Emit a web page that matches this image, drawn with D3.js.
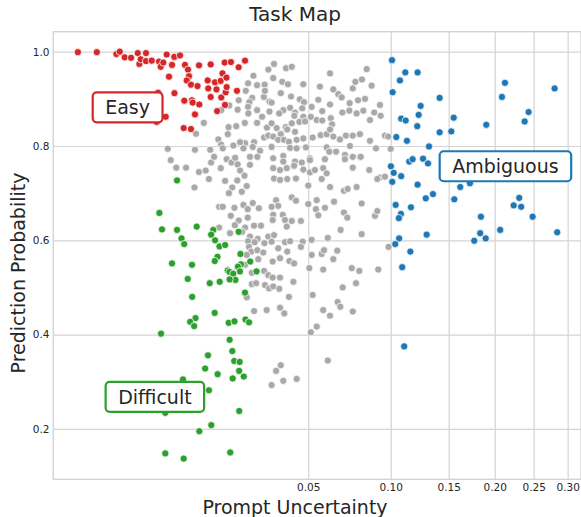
<!DOCTYPE html>
<html>
<head>
<meta charset="utf-8">
<script src="https://cdn.jsdelivr.net/npm/d3@7"></script>
<style>
  body { margin: 0; background: #fff; }
  svg { font-family: "DejaVu Sans", sans-serif; }
</style>
</head>
<body>
<script>

// [prompt uncertainty, prediction probability]
const easyPoints = [
  [0.00103,0.999],[0.00186,0.999],[0.00309,0.995],[0.00335,1.000],[0.00375,0.988],[0.00431,0.987],
  [0.00496,0.997],[0.00512,0.974],[0.00526,0.984],[0.00584,0.997],[0.00584,0.980],[0.00651,0.981],
  [0.00744,0.979],[0.00766,0.968],[0.00802,0.977],[0.00850,0.994],[0.00930,0.972],[0.00965,0.989],
  [0.01058,0.992],[0.01144,0.972],[0.01198,0.962],[0.01216,0.948],[0.00884,0.947],[0.01175,0.939],
  [0.01253,0.930],[0.0138,0.927],[0.0141,0.971],[0.01661,0.973],[0.01998,0.977],[0.02164,0.978],
  [0.02379,0.967],[0.02567,0.981],[0.00968,0.912],[0.01132,0.896],[0.01272,0.897],[0.01286,0.892],
  [0.01416,0.888],[0.0133,0.867],[0.01121,0.838],[0.01253,0.836],[0.00731,0.913],[0.00836,0.862],
  [0.01594,0.939],[0.01607,0.922],[0.01661,0.904],[0.0176,0.935],[0.01796,0.920],[0.01898,0.938],
  [0.01943,0.954],[0.02045,0.945],[0.01913,0.903],[0.02024,0.914],[0.02050,0.925],[0.01812,0.874],
  [0.02006,0.887],[0.02331,0.917],[0.00713,0.851]
];

const difficultPoints = [
  [0.01009,0.727],[0.00748,0.658],[0.00784,0.623],[0.01009,0.622],[0.01084,0.604],[0.0113,0.592],
  [0.01364,0.629],[0.01721,0.622],[0.01672,0.612],[0.01762,0.600],[0.01868,0.587],[0.02011,0.590],
  [0.02379,0.618],[0.0093,0.551],[0.01272,0.548],[0.0182,0.565],[0.01755,0.556],[0.02431,0.571],
  [0.02446,0.549],[0.02728,0.555],[0.02359,0.544],[0.02077,0.536],[0.02211,0.531],[0.02416,0.534],
  [0.02932,0.534],[0.02124,0.533],[0.02227,0.529],[0.02288,0.516],[0.02129,0.517],[0.01193,0.518],
  [0.0164,0.509],[0.01873,0.512],[0.02567,0.489],[0.01276,0.480],[0.01753,0.446],[0.0134,0.435],
  [0.01238,0.427],[0.01314,0.418],[0.02103,0.425],[0.0226,0.428],[0.02582,0.432],[0.02691,0.426],
  [0.00771,0.402],[0.02129,0.389],[0.022,0.365],[0.01601,0.356],[0.02254,0.344],[0.02408,0.342],
  [0.01539,0.328],[0.02393,0.323],[0.01824,0.316],[0.02211,0.307],[0.0253,0.311],[0.01109,0.305],
  [0.01622,0.282],[0.0083,0.234],[0.02396,0.238],[0.01675,0.208],[0.01416,0.195],[0.0083,0.148],
  [0.01121,0.137],[0.02145,0.150]
];

const ambiguousPoints = [
  [0.1009,0.982],[0.1113,0.956],[0.1215,0.956],[0.1070,0.939],[0.1014,0.914],[0.2124,0.934],
  [0.2087,0.904],[0.2801,0.922],[0.1413,0.902],[0.1241,0.885],[0.1224,0.866],[0.1080,0.858],
  [0.1116,0.854],[0.1212,0.842],[0.1550,0.860],[0.1901,0.845],[0.2431,0.872],[0.2378,0.852],
  [0.1413,0.829],[0.1526,0.831],[0.1042,0.819],[0.1126,0.811],[0.1315,0.799],[0.1145,0.767],
  [0.1173,0.772],[0.1262,0.773],[0.1306,0.763],[0.1001,0.757],[0.1022,0.743],[0.1080,0.736],
  [0.1011,0.724],[0.1215,0.718],[0.1617,0.713],[0.1719,0.721],[0.1351,0.698],[0.1286,0.689],
  [0.1556,0.687],[0.2306,0.690],[0.2234,0.674],[0.2332,0.671],[0.1037,0.675],[0.1159,0.670],
  [0.1078,0.656],[0.1062,0.647],[0.1840,0.650],[0.2486,0.650],[0.1294,0.612],[0.1832,0.615],
  [0.1894,0.604],[0.1766,0.599],[0.2066,0.622],[0.2840,0.617],[0.1064,0.604],[0.1034,0.592],
  [0.1154,0.576],[0.1088,0.543],[0.1104,0.375]
];

const otherPoints = [
  [0.0283,0.949],[0.0334,0.962],[0.0266,0.933],[0.0295,0.929],[0.0321,0.930],[0.0259,0.917],
  [0.0279,0.902],[0.0318,0.904],[0.0338,0.894],[0.0238,0.897],[0.0270,0.893],[0.0191,0.876],
  [0.0212,0.886],[0.0235,0.877],[0.0266,0.883],[0.0295,0.876],[0.0312,0.862],[0.0267,0.869],
  [0.0151,0.849],[0.0210,0.840],[0.0231,0.842],[0.0256,0.849],[0.0295,0.849],[0.0329,0.839],
  [0.0135,0.826],[0.0184,0.814],[0.0191,0.803],[0.0208,0.825],[0.0257,0.806],[0.0285,0.808],
  [0.0319,0.818],[0.0334,0.822],[0.00865,0.794],[0.0133,0.792],[0.0165,0.792],[0.0195,0.795],
  [0.0223,0.801],[0.0252,0.795],[0.0281,0.798],[0.0305,0.790],[0.0322,0.917],[0.0242,0.808],
  [0.0338,0.873],
  [0.0355,0.974],[0.0402,0.965],[0.0426,0.968],[0.0352,0.944],[0.0387,0.936],[0.0410,0.931],
  [0.0477,0.931],[0.0610,0.954],[0.0830,0.963],[0.0557,0.926],[0.0628,0.920],[0.0757,0.936],
  [0.0799,0.941],[0.0863,0.928],[0.0741,0.922],[0.0381,0.912],[0.0423,0.905],[0.0461,0.899],
  [0.0480,0.893],[0.0549,0.898],[0.0656,0.910],[0.0675,0.903],[0.0722,0.891],[0.0774,0.897],
  [0.0819,0.900],[0.0921,0.887],[0.0346,0.892],[0.0391,0.876],[0.0419,0.881],[0.0440,0.871],
  [0.0472,0.880],[0.0516,0.883],[0.0610,0.888],[0.0375,0.869],[0.0437,0.864],[0.0477,0.862],
  [0.0512,0.862],[0.0569,0.874],[0.0679,0.871],[0.0720,0.875],[0.0765,0.869],[0.0808,0.875],
  [0.0881,0.871],[0.0926,0.864],[0.0852,0.855],[0.0346,0.848],[0.0401,0.840],[0.0426,0.848],
  [0.0459,0.851],[0.0485,0.852],[0.0541,0.855],[0.0569,0.854],[0.0614,0.859],[0.0621,0.846],
  [0.0365,0.838],[0.0381,0.825],[0.0407,0.835],[0.0440,0.830],[0.0352,0.820],[0.0371,0.813],
  [0.0394,0.813],[0.0414,0.809],[0.0447,0.813],[0.0477,0.816],[0.0521,0.818],[0.0561,0.823],
  [0.0592,0.825],[0.0610,0.835],[0.0628,0.820],[0.0665,0.814],[0.0700,0.822],[0.0741,0.822],
  [0.0786,0.825],[0.0852,0.811],[0.0957,0.822],[0.0981,0.820],[0.0419,0.796],[0.0391,0.779],
  [0.0447,0.795],[0.0489,0.797],[0.0592,0.797],[0.0606,0.788],[0.0643,0.788],[0.0724,0.800],
  [0.0694,0.781],[0.0786,0.777],[0.0893,0.795],[0.0999,0.794],[0.0508,0.774],[0.0346,0.798],
  [0.00910,0.770],[0.00997,0.754],[0.01162,0.754],[0.0141,0.745],[0.0155,0.748],[0.0167,0.765],
  [0.0174,0.777],[0.0190,0.753],[0.0205,0.772],[0.0218,0.765],[0.0235,0.761],[0.0228,0.775],
  [0.0242,0.748],[0.0255,0.737],[0.0234,0.727],[0.0201,0.726],[0.0162,0.730],[0.0132,0.712],
  [0.0262,0.715],[0.0220,0.712],[0.0247,0.703],[0.0211,0.700],[0.0272,0.777],[0.0296,0.777],
  [0.0272,0.760],[0.0186,0.671],[0.0195,0.671],[0.0226,0.669],[0.0252,0.675],[0.0265,0.666],
  [0.0281,0.679],[0.0301,0.668],[0.0216,0.652],[0.0238,0.642],[0.0265,0.648],[0.0227,0.632],
  [0.0257,0.627],[0.0285,0.631],[0.0308,0.631],[0.0186,0.627],[0.0214,0.615],[0.0248,0.618],
  [0.0272,0.608],[0.0297,0.603],[0.0266,0.598],[0.0287,0.596],[0.0320,0.594],[0.0334,0.608],
  [0.0269,0.586],[0.0276,0.576],[0.0262,0.569],[0.0296,0.579],[0.0316,0.574],[0.0299,0.560],
  [0.0257,0.548],[0.0319,0.535],
  [0.0352,0.774],[0.0391,0.767],[0.0440,0.767],[0.0470,0.765],[0.0508,0.770],[0.0583,0.772],
  [0.0694,0.772],[0.0741,0.777],[0.0791,0.777],[0.0352,0.753],[0.0378,0.749],[0.0405,0.753],
  [0.0436,0.758],[0.0477,0.750],[0.0508,0.744],[0.0532,0.749],[0.0574,0.753],[0.0592,0.742],
  [0.0741,0.754],[0.0847,0.749],[0.0921,0.733],[0.0957,0.735],[0.0355,0.731],[0.0378,0.728],
  [0.0407,0.730],[0.0444,0.731],[0.0500,0.716],[0.0566,0.730],[0.0610,0.713],[0.0688,0.705],
  [0.0710,0.709],[0.0765,0.713],[0.0902,0.730],[0.0363,0.685],[0.0371,0.673],[0.0346,0.671],
  [0.0426,0.691],[0.0444,0.684],[0.0500,0.677],[0.0541,0.685],[0.0632,0.682],[0.0537,0.666],
  [0.0583,0.669],[0.0549,0.653],[0.0797,0.678],[0.0688,0.659],[0.0708,0.648],[0.0886,0.652],
  [0.0902,0.662],[0.0352,0.654],[0.0389,0.654],[0.0350,0.643],[0.0398,0.643],[0.0405,0.629],
  [0.0426,0.641],[0.0466,0.641],[0.0669,0.622],[0.0797,0.613],[0.0355,0.611],[0.0346,0.597],
  [0.0398,0.596],[0.0419,0.598],[0.0474,0.597],[0.0516,0.601],[0.0598,0.605],[0.0371,0.583],
  [0.0407,0.576],[0.0466,0.586],[0.0516,0.569],[0.0566,0.571],[0.0578,0.579],[0.0650,0.578],
  [0.0984,0.586],[0.0628,0.560],[0.0350,0.555],[0.0378,0.562],[0.0416,0.556],[0.0436,0.551],
  [0.0505,0.541],[0.0574,0.538],[0.0735,0.541],[0.0782,0.535],[0.0909,0.538],
  [0.0278,0.531],[0.0334,0.526],[0.0278,0.507],[0.0292,0.509],[0.0322,0.505],[0.0337,0.498],
  [0.0262,0.479],[0.0285,0.450],[0.0328,0.452],
  [0.0350,0.521],[0.0378,0.521],[0.0433,0.512],[0.0352,0.502],[0.0375,0.497],[0.0414,0.480],
  [0.0521,0.484],[0.0681,0.500],[0.0761,0.509],[0.0378,0.457],[0.0395,0.445],[0.0574,0.452],
  [0.0610,0.440],[0.0652,0.469],[0.0667,0.459],[0.0741,0.449],[0.0541,0.417],[0.0512,0.405],
  [0.0598,0.345],[0.0381,0.335],[0.0363,0.323],[0.0391,0.302],[0.0447,0.306],[0.0346,0.293]
];

const xTicks = [0.05, 0.10, 0.15, 0.20, 0.25, 0.30];
const yTicks = [0.2, 0.4, 0.6, 0.8, 1.0];

const groups = [
  { name: "other", points: otherPoints, color: "#a9a9a9" },
  { name: "easy", points: easyPoints, color: "#d62728" },
  { name: "difficult", points: difficultPoints, color: "#2ca02c" },
  { name: "ambiguous", points: ambiguousPoints, color: "#1f77b4" }
];

const regionLabels = [
  { text: "Easy", x: 0.0040, y: 0.882, color: "#d62728" },
  { text: "Ambiguous", x: 0.213, y: 0.757, color: "#1f77b4" },
  { text: "Difficult", x: 0.0069, y: 0.268, color: "#2ca02c" }
];

const width = 581, height = 517;
const plot = { left: 53.3, right: 581, top: 31.7, bottom: 479.3 };
const textColor = "#262626";
const gridColor = "#d4d4d4";

const svg = d3.select("body").append("svg")
    .attr("width", width)
    .attr("height", height);

// x is a cube-root scale
const x = d3.scalePow().exponent(1 / 3)
    .domain([0.000381, 0.3213])
    .range([plot.left, plot.right]);
const y = d3.scaleLinear()
    .domain([0.0931, 1.0424])
    .range([plot.bottom, plot.top]);

let xAxis = svg.append("g")
    .attr("transform", `translate(0,${plot.bottom})`)
    .call(d3.axisBottom(x)
      .tickValues(xTicks)
      .tickFormat(d3.format(".2f"))
      .tickSize(-(plot.bottom - plot.top))
      .tickPadding(4.6));

let yAxis = svg.append("g")
    .attr("transform", `translate(${plot.left},0)`)
    .call(d3.axisLeft(y)
      .tickValues(yTicks)
      .tickFormat(d3.format(".1f"))
      .tickSize(-(plot.right - plot.left))
      .tickPadding(3.8));

for (let axis of [xAxis, yAxis]) {
  axis.select(".domain").remove();
  axis.selectAll(".tick line").attr("stroke", gridColor).attr("stroke-width", 1.2);
  axis.selectAll(".tick text")
      .attr("fill", textColor)
      .style("font-size", "10.5px")
      .style("font-family", "DejaVu Sans, sans-serif");
}

// frame
svg.append("rect")
    .attr("x", plot.left)
    .attr("y", plot.top)
    .attr("width", plot.right - plot.left)
    .attr("height", plot.bottom - plot.top)
    .attr("fill", "none")
    .attr("stroke", gridColor)
    .attr("stroke-width", 1.4);

// points
for (let group of groups) {
  svg.append("g")
      .attr("class", group.name)
    .selectAll("circle")
    .data(group.points)
    .join("circle")
      .attr("cx", d => x(d[0]))
      .attr("cy", d => y(d[1]))
      .attr("r", 3.6)
      .attr("fill", group.color)
      .attr("stroke", "#fff")
      .attr("stroke-width", 0.75);
}

// boxed region labels
let labels = svg.append("g").selectAll("g")
    .data(regionLabels)
    .join("g")
      .attr("transform", d => `translate(${x(d.x)},${y(d.y)})`);

labels.each(function (d) {
  let g = d3.select(this);
  let text = g.append("text")
      .attr("text-anchor", "middle")
      .attr("y", 7)
      .attr("fill", textColor)
      .style("font-size", "19px")
      .text(d.text);
  let w = text.node().getComputedTextLength() + 25;
  g.insert("rect", "text")
      .attr("x", -w / 2)
      .attr("y", -15)
      .attr("width", w)
      .attr("height", 30)
      .attr("rx", 4)
      .attr("fill", "#fff")
      .attr("stroke", d.color)
      .attr("stroke-width", 2.2);
});

svg.append("text")
    .attr("x", 295)
    .attr("y", 21)
    .attr("text-anchor", "middle")
    .attr("fill", textColor)
    .style("font-size", "20px")
    .text("Task Map");

svg.append("text")
    .attr("x", 295)
    .attr("y", 514)
    .attr("text-anchor", "middle")
    .attr("fill", textColor)
    .style("font-size", "19px")
    .text("Prompt Uncertainty");

svg.append("text")
    .attr("transform", "translate(25,273) rotate(-90)")
    .attr("text-anchor", "middle")
    .attr("fill", textColor)
    .style("font-size", "19px")
    .text("Prediction Probability");

</script>
</body>
</html>
